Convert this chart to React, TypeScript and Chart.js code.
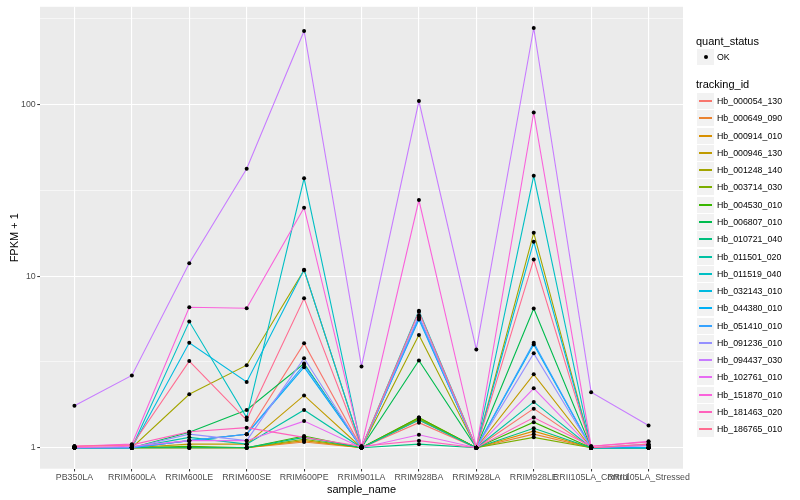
import React, { useEffect, useRef } from "react";
import { Chart, registerables } from "chart.js";

Chart.register(...registerables);

const categories = [
  "PB350LA", "RRIM600LA", "RRIM600LE", "RRIM600SE", "RRIM600PE", "RRIM901LA",
  "RRIM928BA", "RRIM928LA", "RRIM928LE", "RRII105LA_Control", "RRII105LA_Stressed",
];

const trackingIds = [
  "Hb_000054_130", "Hb_000649_090", "Hb_000914_010", "Hb_000946_130", "Hb_001248_140",
  "Hb_003714_030", "Hb_004530_010", "Hb_006807_010", "Hb_010721_040", "Hb_011501_020",
  "Hb_011519_040", "Hb_032143_010", "Hb_044380_010", "Hb_051410_010", "Hb_091236_010",
  "Hb_094437_030", "Hb_102761_010", "Hb_151870_010", "Hb_181463_020", "Hb_186765_010",
];

const seriesColors = [
  "#F8766D", "#EA8331", "#D89000", "#C09B00", "#A3A500", "#7CAE00", "#39B600", "#00BB4E",
  "#00BF7D", "#00C1A3", "#00BFC4", "#00BAE0", "#00B0F6", "#35A2FF", "#9590FF", "#C77CFF",
  "#E76BF3", "#FA62DB", "#FF62BC", "#FF6C91",
];

// FPKM + 1 per tracking_id, in category order
const s000054 = [1.0, 1.0, 1.1, 1.2, 4.06, 1.0, 1.4, 1.0, 1.69, 1.0, 1.0];
const s000649 = [1.0, 1.0, 1.0, 1.0, 1.08, 1.0, 1.45, 1.0, 1.2, 1.0, 1.0];
const s000914 = [1.0, 1.0, 1.0, 1.0, 1.1, 1.0, 1.48, 1.0, 1.25, 1.0, 1.0];
const s000946 = [1.0, 1.0, 1.05, 1.05, 2.02, 1.0, 1.5, 1.0, 2.68, 1.0, 1.0];
const s001248 = [1.0, 1.0, 2.05, 3.03, 10.85, 1.0, 4.55, 1.0, 17.9, 1.0, 1.0];
const s003714 = [1.0, 1.0, 1.0, 1.0, 1.12, 1.0, 1.47, 1.0, 1.15, 1.0, 1.0];
const s004530 = [1.0, 1.0, 1.02, 1.0, 1.17, 1.0, 1.5, 1.0, 1.41, 1.0, 1.0];
const s006807 = [1.0, 1.0, 1.23, 1.66, 3.1, 1.0, 3.23, 1.0, 6.48, 1.0, 1.0];
const s010721 = [1.0, 1.0, 1.0, 1.0, 1.15, 1.0, 1.05, 1.0, 1.3, 1.0, 1.0];
const s011501 = [1.0, 1.0, 1.15, 1.05, 1.66, 1.0, 1.45, 1.0, 1.85, 1.0, 1.0];
const s011519 = [1.0, 1.0, 5.44, 1.5, 37.2, 1.0, 6.3, 1.0, 38.5, 1.0, 1.0];
const s032143 = [1.0, 1.0, 4.09, 2.42, 10.9, 1.0, 5.77, 1.0, 15.9, 1.0, 1.0];
const s044380 = [1.0, 1.0, 1.1, 1.2, 2.95, 1.0, 5.6, 1.0, 4.0, 1.0, 1.0];
const s051410 = [1.0, 1.0, 1.1, 1.2, 3.05, 1.0, 5.7, 1.0, 4.1, 1.0, 1.03];
const s091236 = [1.0, 1.0, 1.2, 1.1, 3.33, 1.0, 5.9, 1.0, 3.55, 1.0, 1.05];
const s094437 = [1.76, 2.64, 11.9, 42.3, 269, 2.98, 105, 3.74, 280, 2.11, 1.35];
const s102761 = [1.0, 1.02, 1.1, 1.1, 1.43, 1.0, 1.19, 1.0, 2.22, 1.0, 1.03];
const s151870 = [1.02, 1.05, 6.59, 6.5, 25.1, 1.02, 27.8, 1.0, 90, 1.02, 1.09];
const s181463 = [1.02, 1.04, 1.24, 1.31, 1.15, 1.02, 1.1, 1.0, 1.5, 1.02, 1.08];
const s186765 = [1.02, 1.03, 3.2, 1.45, 7.43, 1.0, 6.2, 1.0, 12.5, 1.0, 1.05];

const seriesValues = [
  s000054, s000649, s000914, s000946, s001248, s003714, s004530, s006807, s010721, s011501,
  s011519, s032143, s044380, s051410, s091236, s094437, s102761, s151870, s181463, s186765,
];

const yMajorTicks = [1, 10, 100];
const yMajorLabels = ["1", "10", "100"];
const yMinorTicks = [3.1623, 31.623, 316.23];

const FONT = "'Liberation Sans', Arial, Helvetica, sans-serif";

const panelBg = {
  id: "panelBg",
  beforeDraw(chart: any) {
    const { ctx, chartArea } = chart;
    ctx.save();
    ctx.fillStyle = "#EBEBEB";
    ctx.fillRect(chartArea.left, chartArea.top, chartArea.right - chartArea.left, chartArea.bottom - chartArea.top);
    ctx.restore();
  },
};

export default function App() {
  const canvasRef = useRef<HTMLCanvasElement | null>(null);

  useEffect(() => {
    if (!canvasRef.current) return;
    const lineSets = seriesValues.map((vals, si) => ({
      type: "line" as const,
      label: trackingIds[si],
      data: vals.map((v, i) => ({ x: i + 1, y: v })),
      borderColor: seriesColors[si],
      backgroundColor: seriesColors[si],
      borderWidth: 1.1,
      pointRadius: 0,
      fill: false,
      tension: 0,
      order: 100 - si,
    }));
    const points: { x: number; y: number }[] = [];
    seriesValues.forEach((vals) => vals.forEach((v, i) => points.push({ x: i + 1, y: v })));
    const pointSet = {
      type: "scatter" as const,
      label: "OK",
      data: points,
      showLine: false,
      pointRadius: 2,
      pointBackgroundColor: "#000000",
      pointBorderWidth: 0,
      borderColor: "#000000",
      order: 0,
    };

    const yTicksAll = [...yMajorTicks, ...yMinorTicks].sort((a, b) => a - b);
    const isMajor = (v: number) => yMajorTicks.some((m) => Math.abs(m - v) < 1e-6);

    const chart = new Chart(canvasRef.current, {
      type: "line",
      data: { datasets: [pointSet as any, ...lineSets] },
      plugins: [panelBg],
      options: {
        animation: false,
        responsive: false,
        devicePixelRatio: 1,
        layout: { padding: { left: 0, top: 5, right: 117, bottom: 0 } },
        plugins: { legend: { display: false }, tooltip: { enabled: false } },
        scales: {
          x: {
            type: "linear",
            min: 0.4,
            max: 11.6,
            afterBuildTicks: (scale: any) => {
              scale.ticks = categories.map((_, i) => ({ value: i + 1 }));
            },
            afterFit: (scale: any) => {
              scale.height = 31.3;
            },
            ticks: {
              autoSkip: false,
              maxRotation: 0,
              minRotation: 0,
              padding: 1,
              color: "#4D4D4D",
              font: { family: FONT, size: 8.8 },
              callback: (v: any) => categories[Math.round(Number(v)) - 1] ?? "",
            },
            grid: {
              color: "#FFFFFF",
              lineWidth: 1.1,
              drawTicks: true,
              tickLength: 2.75,
              tickColor: "#333333",
              tickWidth: 1,
            },
            border: { display: false },
            title: {
              display: true,
              text: "sample_name",
              color: "#000000",
              font: { family: FONT, size: 11 },
              padding: { top: 0, bottom: 3.5 },
            },
          },
          y: {
            type: "logarithmic",
            min: 0.755,
            max: 372,
            afterBuildTicks: (scale: any) => {
              scale.ticks = yTicksAll.map((v) => ({ value: v, major: isMajor(v) }));
            },
            afterFit: (scale: any) => {
              scale.width = 40;
            },
            ticks: {
              autoSkip: false,
              padding: 1.5,
              color: "#4D4D4D",
              font: { family: FONT, size: 8.8 },
              callback: (v: any) => {
                const idx = yMajorTicks.findIndex((m) => Math.abs(m - Number(v)) < 1e-6);
                return idx >= 0 ? yMajorLabels[idx] : "";
              },
            },
            grid: {
              color: "#FFFFFF",
              lineWidth: (ctx: any) => (ctx.tick && isMajor(ctx.tick.value) ? 1.1 : 0.55),
              drawTicks: true,
              tickLength: 2.75,
              tickColor: (ctx: any) => (ctx.tick && isMajor(ctx.tick.value) ? "#333333" : "rgba(0,0,0,0)"),
              tickWidth: 1,
            },
            border: { display: false },
            title: {
              display: true,
              text: "FPKM + 1",
              color: "#000000",
              font: { family: FONT, size: 11 },
              padding: { top: 8, bottom: 0 },
            },
          },
        },
      } as any,
    });
    return () => chart.destroy();
  }, []);

  const keyBox: React.CSSProperties = {
    position: "absolute",
    left: 697,
    width: 17,
    height: 16,
    background: "#F2F2F2",
  };
  const legendText: React.CSSProperties = {
    position: "absolute",
    left: 717,
    fontFamily: FONT,
    fontSize: 8.8,
    color: "#000000",
    lineHeight: "17px",
    whiteSpace: "nowrap",
  };
  const titleText: React.CSSProperties = {
    position: "absolute",
    left: 696,
    fontFamily: FONT,
    fontSize: 11,
    color: "#000000",
    lineHeight: "14px",
    whiteSpace: "nowrap",
  };

  return (
    <div style={{ position: "fixed", left: 0, top: 0, width: 800, height: 500, background: "#FFFFFF" }}>
      <canvas ref={canvasRef} width={800} height={500} style={{ position: "absolute", left: 0, top: 0, width: 800, height: 500 }} />
      <div style={{ ...titleText, top: 34 }}>quant_status</div>
      <div style={{ ...keyBox, top: 49 }}>
        <div style={{ position: "absolute", left: 6.5, top: 6, width: 4, height: 4, borderRadius: "50%", background: "#000" }} />
      </div>
      <div style={{ ...legendText, top: 49 }}>OK</div>
      <div style={{ ...titleText, top: 77 }}>tracking_id</div>
      {trackingIds.map((id, i) => {
        const top = Math.round(93 + i * 17.28);
        return (
          <React.Fragment key={id}>
            <div style={{ ...keyBox, top }}>
              <div style={{ position: "absolute", left: 2, width: 13, top: 7, height: 2, background: seriesColors[i] }} />
            </div>
            <div style={{ ...legendText, top: top - 0.5 }}>{id}</div>
          </React.Fragment>
        );
      })}
    </div>
  );
}
